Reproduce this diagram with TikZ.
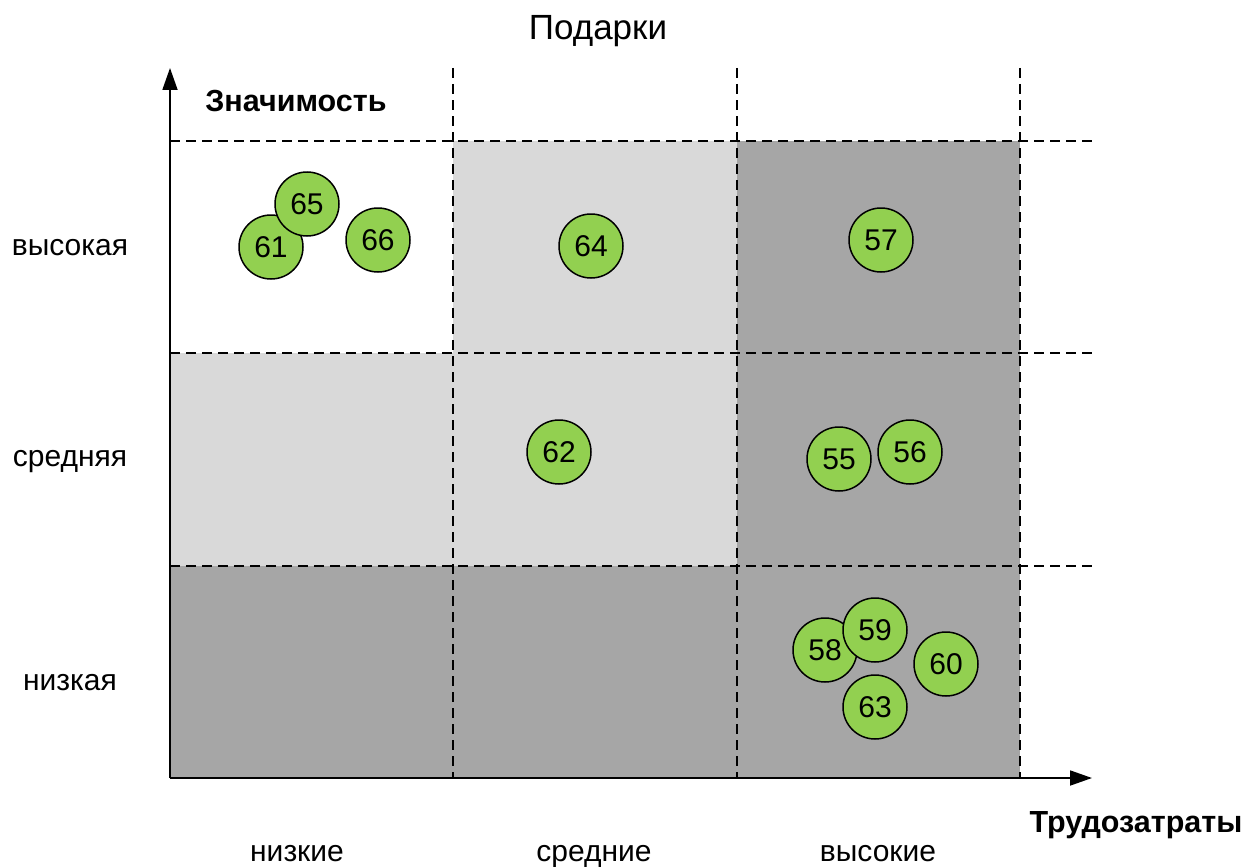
\documentclass[tikz,border=0pt]{standalone}
\usepackage{fontspec}
\setmainfont{Liberation Sans}
\usetikzlibrary{arrows.meta}
\definecolor{lightc}{HTML}{D9D9D9}
\definecolor{darkc}{HTML}{A6A6A6}
\definecolor{greenc}{HTML}{92D050}
\tikzset{
  gridline/.style={line width=1.4pt, dash pattern=on 10pt off 6pt},
  axisline/.style={line width=1.8pt, -{Triangle[length=22pt,width=15pt]}},
  ball/.style={circle, draw=black, line width=1.5pt, fill=greenc, minimum size=64pt, inner sep=0pt, font=\fontsize{30}{32}\selectfont},
  lbl/.style={font=\fontsize{30}{32}\selectfont, inner sep=0pt, anchor=base},
  blbl/.style={font=\fontsize{30.5}{32}\selectfont\bfseries, inner sep=0pt, anchor=base},
}
\begin{document}
\begin{tikzpicture}[x=1pt,y=-1pt]
\useasboundingbox (0,0) rectangle (1248,867);
% fills
\fill[lightc] (453,141) rectangle (737,353);
\fill[darkc] (737,141) rectangle (1020,566);
\fill[lightc] (170,353) rectangle (737,566);
\fill[darkc] (170,566) rectangle (1020,778);
% grid
\foreach \x in {453,737,1020} \draw[gridline] (\x,68) -- (\x,778);
\foreach \y in {141,353,566} \draw[gridline] (170,\y) -- (1092,\y);
% axes
\coordinate (o) at (170,778);
\coordinate (ytop) at (170,68);
\coordinate (xend) at (1092,778);
\draw[axisline] (o) -- (ytop);
\draw[axisline] (o) -- (xend);
% labels
\node[lbl, font=\fontsize{35}{37}\selectfont] (title) at (598,40) {Подарки};
\node[blbl] (yl) at (296,111) {Значимость};
\node[blbl] (xl) at (1136,832) {Трудозатраты};
\node[lbl] (r1) at (70,255) {высокая};
\node[lbl] (r2) at (70,466) {средняя};
\node[lbl] (r3) at (70,690) {низкая};
\node[lbl] (c1) at (297,861) {низкие};
\node[lbl] (c2) at (594,861) {средние};
\node[lbl] (c3) at (878,861) {высокие};
% balls
\node[ball] (n61) at (271,247) {61};
\node[ball] (n65) at (307,204) {65};
\node[ball] (n66) at (378,240) {66};
\node[ball] (n64) at (591,246) {64};
\node[ball] (n57) at (881,240) {57};
\node[ball] (n62) at (559,452) {62};
\node[ball] (n55) at (839,459) {55};
\node[ball] (n56) at (910,452) {56};
\node[ball] (n58) at (825,650) {58};
\node[ball] (n59) at (875,630) {59};
\node[ball] (n60) at (946,664) {60};
\node[ball] (n63) at (875,707) {63};
\end{tikzpicture}
\end{document}
